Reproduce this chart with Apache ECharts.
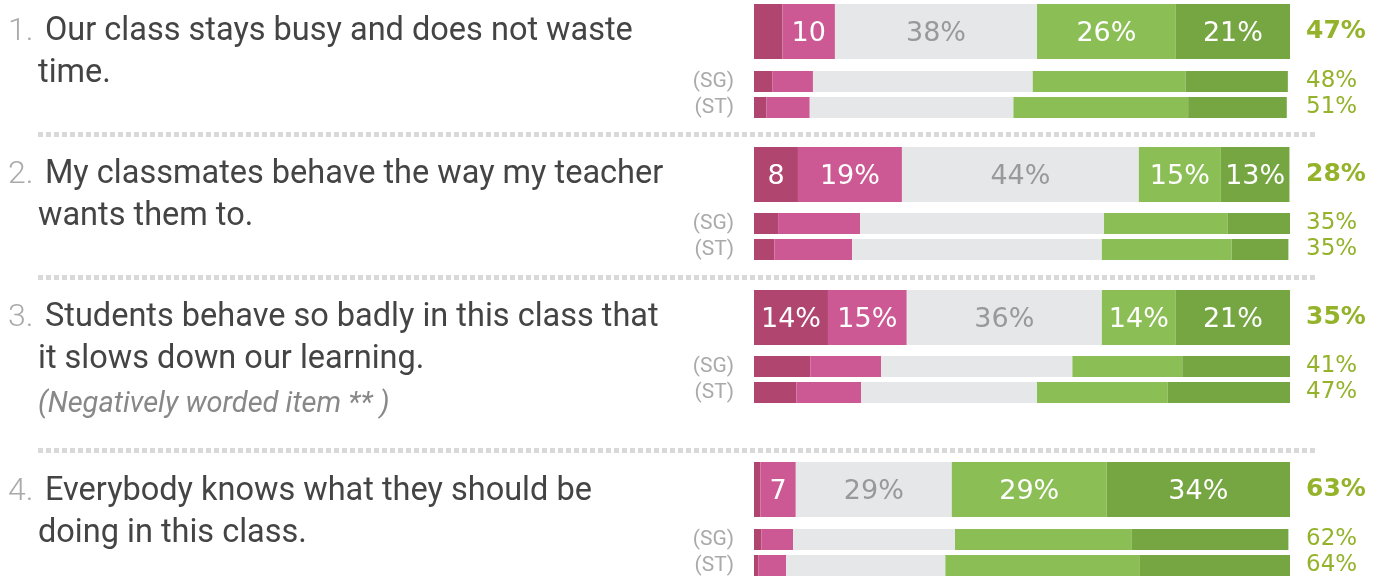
<!DOCTYPE html>
<html>
<head>
<meta charset="utf-8">
<script src="https://cdn.jsdelivr.net/npm/echarts@6/dist/echarts.min.js"></script>
<style>
  html, body { margin: 0; padding: 0; background: #fff; }
  #chart { width: 1386px; height: 579px; }
</style>
</head>
<body>
<div id="chart"></div>
<script>
// answer shares per question, order: strongly disagree .. strongly agree
var mainValues = [
  [5.3, 9.8, 37.7, 25.9, 21.3],
  [8.2, 19.4, 44.2, 15.3, 12.8],
  [13.8, 14.7, 36.4, 13.8, 21.3],
  [1.2, 6.6, 29.1, 28.9, 34.2]
];
var sgValues = [
  [3.4, 7.6, 41.0, 28.5, 19.1],
  [4.5, 15.3, 45.5, 23.1, 11.7],
  [10.5, 13.2, 35.7, 20.5, 20.2],
  [1.4, 5.9, 30.2, 33.0, 29.2]
];
var stValues = [
  [2.3, 8.1, 38.0, 32.6, 18.4],
  [3.8, 14.5, 46.6, 24.2, 10.6],
  [7.9, 12.1, 32.8, 24.4, 22.8],
  [0.8, 5.2, 29.7, 36.3, 28.4]
];
var mainTotals = ['47%', '28%', '35%', '63%'];
var sgTotals = ['48%', '35%', '41%', '62%'];
var stTotals = ['51%', '35%', '47%', '64%'];
var subLabels = ['(SG)', '(ST)'];
var questions = [
  ['Our class stays busy and does not waste', 'time.'],
  ['My classmates behave the way my teacher', 'wants them to.'],
  ['Students behave so badly in this class that', 'it slows down our learning.'],
  ['Everybody knows what they should be', 'doing in this class.']
];
var noteText = '(Negatively worded item ** )';

var segColors = ['#b0466f', '#cc5993', '#e6e7e9', '#8bbf56', '#76a642'];
var labelColors = ['#fff', '#fff', '#999', '#fff', '#fff'];

var mainTops = [4, 147, 290, 462];
var subTops = [68.5, 210.5, 353.5, 526.5];
var textY = [[28, 70], [171, 213], [314, 356], [488, 530]];
var sepY = [134.5, 277.5, 450.5];

var myChart = echarts.init(document.getElementById('chart'));

var grid = [], xAxis = [], yAxis = [], series = [], graphic = [];

var fmt = function(params) {
  var v = params.value;
  if (v < 6) return '';
  if (v < 11) return Math.round(v) + '';
  return Math.round(v) + '%';
};

for (var q = 0; q < 4; ++q) {
  for (var k = 0; k < 2; ++k) {
    var isMain = (k == 0);
    var g = grid.length;
    grid.push({
      left: 754, width: 536,
      top: isMain ? mainTops[q] : subTops[q],
      height: isMain ? 55 : 52
    });
    xAxis.push({ type: 'value', gridIndex: g, min: 0, max: 100, show: false });
    var leftIdx = yAxis.length;
    yAxis.push({
      type: 'category', gridIndex: g, inverse: true,
      data: isMain ? [''] : subLabels,
      axisLine: { show: false }, axisTick: { show: false },
      axisLabel: {
        interval: 0, color: '#aaa', fontSize: 21, margin: 20,
        fontFamily: 'Roboto', padding: [5, 0, 0, 0]
      }
    });
    yAxis.push({
      type: 'category', gridIndex: g, inverse: true, position: 'right',
      data: isMain ? [mainTotals[q]] : [sgTotals[q], stTotals[q]],
      axisLine: { show: false }, axisTick: { show: false },
      axisLabel: {
        interval: 0,
        color: '#94b22a', margin: 16, fontFamily: 'DejaVu Sans',
        fontSize: isMain ? 25 : 23, fontWeight: isMain ? 'bold' : 'normal',
        padding: isMain ? [6, 0, 0, 0] : [4, 0, 0, 0]
      }
    });
    for (var s = 0; s < 5; ++s) {
      var data = isMain ? [mainValues[q][s]] : [sgValues[q][s], stValues[q][s]];
      series.push({
        type: 'bar', stack: 'g' + g,
        xAxisIndex: g, yAxisIndex: leftIdx,
        barWidth: isMain ? 55 : 21,
        data: data,
        itemStyle: { color: segColors[s] },
        label: {
          show: isMain, position: 'inside', offset: [0, 2],
          color: labelColors[s], fontSize: 27, fontFamily: 'DejaVu Sans',
          formatter: fmt
        },
        emphasis: { disabled: true }
      });
    }
  }

  // question text
  graphic.push({
    type: 'text', left: 8, top: textY[q][0] - 12,
    style: { text: (q + 1) + '.', fill: '#aaa', font: '300 32px Roboto' }
  });
  for (var l = 0; l < questions[q].length; ++l) {
    graphic.push({
      type: 'text', left: l == 0 ? 45 : 38, top: textY[q][l] - 13,
      style: { text: questions[q][l], fill: '#444', font: '32.5px Roboto' }
    });
  }
}

graphic.push({
  type: 'text', left: 38, top: 400 - 10,
  style: { text: noteText, fill: '#888', font: 'italic 29px Roboto' }
});

for (var i = 0; i < sepY.length; ++i) {
  graphic.push({
    type: 'line',
    shape: { x1: 38, y1: sepY[i], x2: 1315, y2: sepY[i] },
    style: { stroke: '#d9d9d9', lineWidth: 5, lineDash: [5, 3] }
  });
}

var option = {
  animation: false,
  grid: grid,
  xAxis: xAxis,
  yAxis: yAxis,
  series: series,
  graphic: graphic
};

myChart.setOption(option);
</script>
</body>
</html>
